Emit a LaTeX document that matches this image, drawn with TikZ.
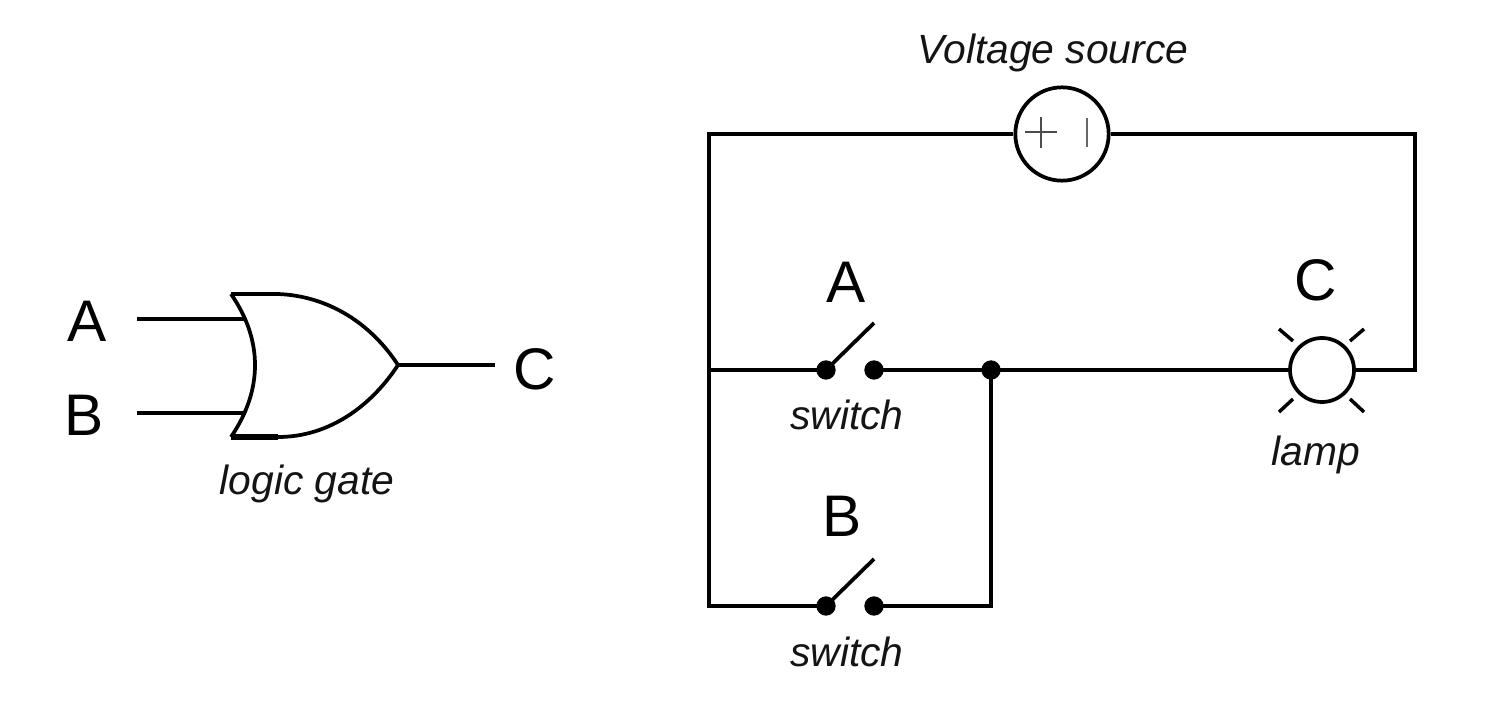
\documentclass[tikz,border=0pt]{standalone}
\usepackage{fontspec}
\setmainfont{Liberation Sans}
\usetikzlibrary{positioning}
\tikzset{
    wire/.style={line width=3.6pt},
    thinwire/.style={line width=2.8pt},
    terminal/.style={circle,fill=black,inner sep=0pt,outer sep=-1.5pt,minimum size=14.5pt},
    bigname/.style={font=\fontsize{44}{44}\selectfont,text=black},
    caption/.style={font=\fontsize{30.6}{32}\selectfont\itshape,text=black!92},
}
\begin{document}
\begin{tikzpicture}[x=0.75pt,y=-0.75pt]
    \useasboundingbox (0,0) rectangle (1488,706);
    % gate
    \coordinate (g_top) at (231,294);
    \coordinate (g_topend) at (278,294);
    \coordinate (g_bot) at (231,437);
    \coordinate (g_botend) at (278,437);
    \coordinate (g_tip) at (398,365);
    \coordinate (g_a) at (246,319);
    \coordinate (g_b) at (246,413);
    \coordinate (in_a) at (137,319);
    \coordinate (in_b) at (137,413);
    \coordinate (out_c) at (495,365);
    \draw[wire] (g_top) -- (g_topend);
    \draw[wire,line width=4.4pt] (g_bot) -- (g_botend);
    \draw[thinwire] (g_topend) .. controls (330,296) and (372,325) .. (g_tip);
    \draw[thinwire] (g_botend) .. controls (330,437) and (372,405) .. (g_tip);
    \draw[thinwire] (g_top) .. controls (263,340) and (263,390) .. (g_bot);
    \draw[wire] (in_a) -- (g_a);
    \draw[wire] (in_b) -- (g_b);
    \draw[wire] (g_tip) -- (out_c);
    \node[bigname] (l_a) at (87,321) {A};
    \node[bigname] (l_b) at (84,415) {B};
    \node[bigname] (l_c) at (535,369) {C};
    \node[caption] (l_gate) at (307,484) {logic gate};
    % circuit
    \coordinate (c_nw) at (709,134);
    \coordinate (c_ne) at (1415,134);
    \coordinate (c_e) at (1415,370);
    \coordinate (c_w) at (709,370);
    \coordinate (c_sw) at (709,606);
    \coordinate (c_se) at (991,606);
    \node[circle,draw,thinwire,inner sep=0pt,minimum size=70pt] (source) at (1062,134) {};
    \node[circle,draw,thinwire,inner sep=0pt,minimum size=48pt] (lamp) at (1322,370) {};
    \node[terminal] (a_l) at (826,370) {};
    \node[terminal] (a_r) at (874,370) {};
    \node[terminal] (b_l) at (826,606) {};
    \node[terminal] (b_r) at (874,606) {};
    \node[terminal] (join) at (991,370) {};
    \coordinate (a_arm) at (874,323);
    \coordinate (b_arm) at (874,559);
    \draw[wire] (source.west) -- (c_nw) -- (c_sw) -- (b_l);
    \draw[wire] (source.east) -- (c_ne) -- (c_e) -- (lamp.east);
    \draw[wire] (c_w) -- (a_l);
    \draw[wire] (a_r) -- (join);
    \draw[wire] (join) -- (lamp.west);
    \draw[wire] (b_r) -- (c_se) -- (join);
    \draw[thinwire] (a_l) -- (a_arm);
    \draw[thinwire] (b_l) -- (b_arm);
    % plus and minus
    \draw[line width=2.2pt,black!70] (1025,132) -- (1057,132) (1041,117) -- (1041,148);
    \draw[line width=2.2pt,black!60] (1087,118) -- (1087,147);
    % rays
    \foreach \xa/\ya/\xb/\yb in {1279/329/1293/341,1364/329/1350/341,1279/412/1293/399,1364/412/1350/399}
        \draw[line width=2.6pt] (\xa,\ya) -- (\xb,\yb);
    \node[caption] (l_source) at (1053,53) {Voltage source};
    \node[bigname] (l_sa) at (846,282) {A};
    \node[bigname] (l_sb) at (842,516) {B};
    \node[bigname] (l_lc) at (1316,280) {C};
    \node[caption] (l_swa) at (847,415) {switch};
    \node[caption] (l_swb) at (847,652) {switch};
    \node[caption] (l_lamp) at (1316,455) {lamp};
\end{tikzpicture}
\end{document}
